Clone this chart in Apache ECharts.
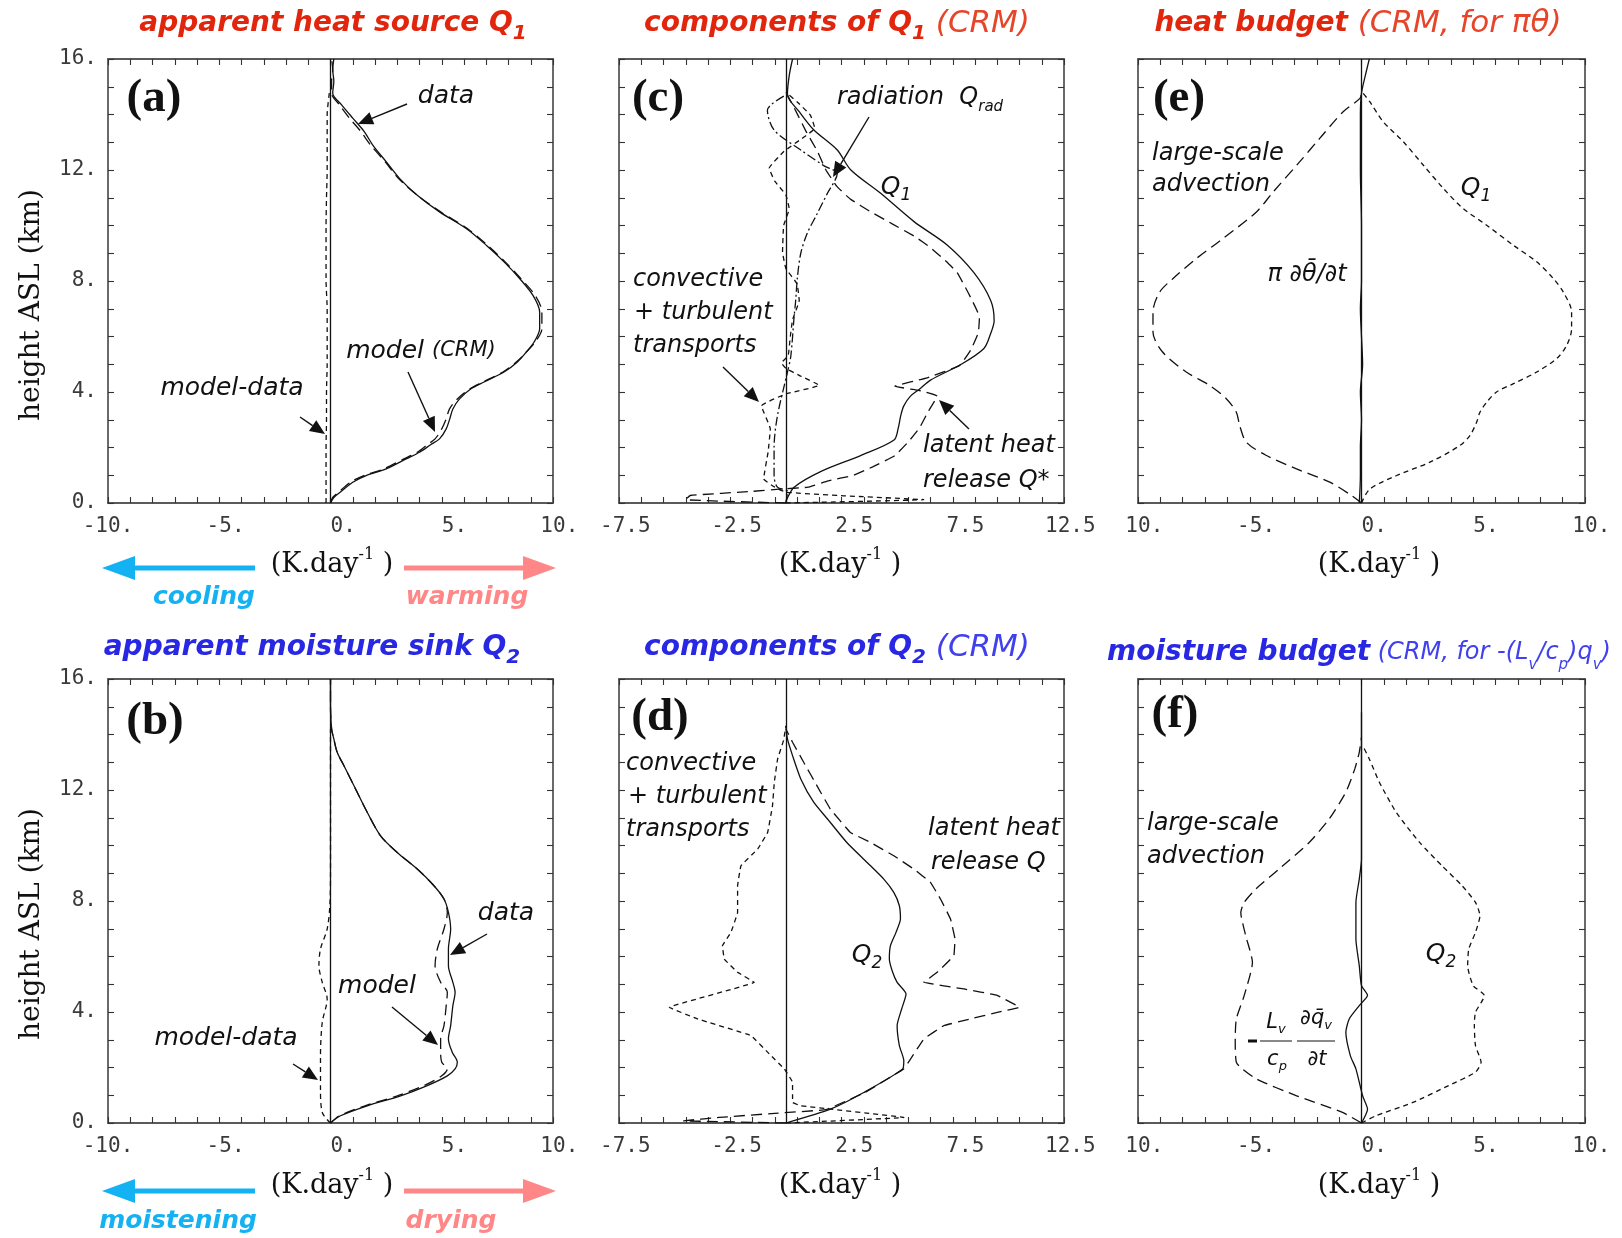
<!DOCTYPE html>
<html><head><meta charset="utf-8">
<script src="https://cdn.jsdelivr.net/npm/echarts/dist/echarts.min.js"></script>
<style>html,body{margin:0;padding:0;background:#fff}#c{width:1622px;height:1238px}</style>
</head><body><div id="c"></div><script>
// ---------------- tick labels ----------------
const X_LABELS_1 = ['-10.', '-5.', '0.', '5.', '10.'];
const X_LABELS_2 = ['-7.5', '-2.5', '2.5', '7.5', '12.5'];
const X_LABELS_3 = ['10.', '-5.', '0.', '5.', '10.'];
const Y_LABELS = ['0.', '4.', '8.', '12.', '16.'];

// ---------------- panel (a): apparent heat source Q1 ----------------
const a_h = [0, 0.2, 0.38, 0.75, 0.99, 1.23, 1.59, 1.83, 2.1, 2.31, 2.67, 3.03, 3.39, 3.75, 4.11, 4.36, 4.72, 5.08, 5.44, 5.8, 6.28, 6.88, 7.48, 8.09, 8.69, 9.29, 9.89, 10.49, 11.09, 11.7, 12.3, 12.9, 13.4, 13.87, 14.35, 14.77, 15.2, 15.6, 16];
const a_data = [0, 0.15, 0.42, 1.0, 1.6, 2.5, 3.4, 4.0, 4.5, 4.9, 5.2, 5.36, 5.5, 5.8, 6.3, 6.9, 7.8, 8.4, 8.8, 9.15, 9.4, 9.4, 9.1, 8.5, 7.8, 7.0, 6.1, 4.9, 3.9, 3.1, 2.5, 1.9, 1.5, 1.0, 0.5, 0.1, 0.15, 0.1, 0.15];
const a_model = [0, 0.1, 0.35, 0.9, 1.5, 2.4, 3.3, 3.9, 4.35, 4.7, 5.0, 5.2, 5.35, 5.7, 6.25, 6.85, 7.75, 8.35, 8.8, 9.2, 9.5, 9.5, 9.2, 8.55, 7.85, 7.05, 6.15, 4.95, 3.9, 3.05, 2.45, 1.8, 1.35, 0.85, 0.4, 0.05, 0.05, 0.1, 0.05];
const a_diff_h = [0, 1, 2, 3, 4, 5, 6, 7, 8, 9, 10, 11, 12, 13, 14, 14.8];
const a_diff = [-0.2, -0.2, -0.2, -0.18, -0.18, -0.15, -0.15, -0.15, -0.2, -0.2, -0.2, -0.18, -0.15, -0.15, -0.15, -0.05];

// ---------------- panel (c): components of Q1 ----------------
const c_q1_h = [0, 0.15, 0.57, 1.13, 1.71, 2.27, 2.7, 3.14, 3.5, 3.85, 4.1, 4.43, 4.99, 5.57, 6.1, 6.57, 7.29, 8.29, 9.29, 10.14, 11.16, 12.01, 12.72, 13.44, 14.1, 14.73, 15.4, 16];
const c_q1 = [0, 0.05, 0.37, 1.56, 3.36, 4.86, 5.05, 5.16, 5.3, 5.6, 6.0, 6.5, 7.86, 8.9, 9.2, 9.36, 9.21, 8.46, 7.26, 5.76, 4.26, 2.91, 2.31, 1.26, 0.6, 0.07, 0.15, 0.3];
const c_qs_h = [0, 0.12, 0.27, 0.42, 0.5, 0.57, 0.8, 0.99, 1.3, 1.71, 2.2, 2.7, 3.3, 3.85, 4.05, 4.21, 4.5, 4.95, 5.5, 6.14, 6.7, 7.57, 8.3, 8.71, 9.2, 9.6, 10.05, 10.5, 10.95, 11.4, 12.0, 12.7, 13.4, 14.2, 14.8];
const c_qs = [0, -4.5, -4.3, -1.5, -0.3, 1.0, 1.9, 3.0, 3.9, 4.9, 5.5, 6.0, 6.4, 6.8, 6.0, 4.9, 6.3, 7.8, 8.3, 8.65, 8.7, 8.2, 7.7, 7.2, 6.5, 5.8, 4.8, 3.8, 2.9, 2.3, 1.8, 1.4, 0.9, 0.4, 0];
const c_rad_h = [0, 0.42, 0.57, 0.99, 2.0, 3.14, 4.71, 5.28, 6.71, 7.29, 8.14, 9.0, 9.72, 10.43, 11.15, 11.87, 12.15, 12.72, 13.44, 14.15, 14.73];
const c_rad = [0, 0.07, -0.38, -0.53, -0.53, -0.38, 0.07, 0.22, 0.37, 0.44, 0.52, 0.67, 0.96, 1.41, 1.86, 2.31, 1.72, 0.67, -0.53, -0.83, 0.07];
const c_conv_h = [0, 0.12, 0.26, 0.39, 0.57, 0.87, 1.83, 2.67, 3.5, 3.93, 4.24, 4.6, 4.85, 5.05, 5.3, 6.0, 6.6, 7.3, 7.9, 8.45, 9.05, 10.0, 10.6, 11.1, 11.6, 12.06, 12.66, 13.18, 13.5, 13.98, 14.46, 14.8];
const c_conv = [0, 6.2, 2.6, 0, -0.5, -1.0, -0.8, -0.7, -1.1, 0, 1.5, 0.6, 0.0, -0.2, 0.1, 0.2, 0.3, 0.6, 0.5, 0.0, -0.15, -0.1, 0.15, 0.0, -0.5, -0.75, -0.1, 0.8, 1.3, 1.1, 0.5, 0];

// ---------------- panel (e): heat budget ----------------
const e_q1_h = [0, 0.5, 0.99, 1.47, 2.07, 2.43, 2.91, 3.27, 3.63, 4.0, 4.3, 4.72, 5.2, 5.68, 6.28, 6.88, 7.6, 8.09, 8.69, 9.29, 10.01, 10.61, 11.34, 12.18, 13.02, 13.74, 14.46, 14.77];
const e_q1 = [0, 0.37, 1.57, 3.06, 4.4, 4.85, 5.15, 5.3, 5.6, 6.04, 6.8, 7.84, 8.73, 9.18, 9.4, 9.4, 9.03, 8.58, 7.84, 6.79, 5.6, 4.55, 3.66, 2.76, 1.87, 0.97, 0.37, 0.07];
const e_adv_h = [0, 0.3, 0.75, 1.23, 1.71, 2.19, 2.79, 3.27, 3.75, 4.24, 4.72, 5.44, 6.16, 6.88, 7.6, 8.09, 8.81, 9.53, 10.49, 11.2, 12.3, 13.14, 14.1, 14.58, 14.77];
const e_adv = [0, -0.5, -1.42, -2.91, -4.25, -5.15, -5.45, -5.6, -6.04, -6.8, -7.84, -8.9, -9.33, -9.33, -9.03, -8.43, -7.39, -6.2, -4.7, -3.96, -2.76, -1.87, -0.82, -0.07, 0];
const e_tend_h = [0, 1, 2, 3, 4, 5, 6, 7, 8, 10, 12, 14, 14.77, 15.4, 16];
const e_tend = [-0.1, -0.05, -0.05, 0, -0.05, 0.05, 0, -0.05, 0, 0, -0.05, -0.05, 0, 0.17, 0.35];

// ---------------- panel (b): apparent moisture sink Q2 ----------------
const b_h = [0, 0.26, 0.62, 0.98, 1.35, 1.7, 1.95, 2.19, 2.55, 3.03, 3.51, 4.23, 4.71, 5.07, 5.67, 6.27, 6.99, 7.59, 8.07, 8.55, 9.15, 9.75, 10.35, 11.2, 12.16, 12.88, 13.36, 13.84, 14.2, 15, 16];
const b_data = [0, 0.45, 1.65, 3.15, 4.35, 5.25, 5.6, 5.7, 5.47, 5.3, 5.4, 5.5, 5.6, 5.5, 5.3, 5.3, 5.4, 5.3, 5.1, 4.65, 3.9, 3.0, 2.25, 1.65, 1.05, 0.6, 0.3, 0.15, 0.05, 0, 0];
const b_model = [0, 0.4, 1.55, 3.0, 4.2, 5.0, 5.25, 5.0, 4.95, 4.95, 5.1, 5.2, 5.25, 4.95, 4.7, 4.8, 5.1, 5.25, 5.1, 4.65, 3.9, 3.0, 2.25, 1.65, 1.05, 0.6, 0.3, 0.15, 0.05, 0, 0];
const b_diff_h = [0, 0.38, 1.23, 2.43, 3.63, 4.47, 5.07, 5.67, 6.27, 6.99, 7.83, 9, 11, 13, 14.2];
const b_diff = [0, -0.37, -0.45, -0.45, -0.37, -0.15, -0.37, -0.52, -0.45, -0.15, -0.03, 0, 0, 0, 0];

// ---------------- panel (d): components of Q2 ----------------
const d_q2_h = [0, 0.5, 1.1, 1.95, 2.25, 2.79, 3.51, 4.1, 4.65, 5.07, 5.43, 5.91, 6.39, 6.87, 7.35, 7.83, 8.31, 8.79, 9.39, 10.1, 10.83, 11.56, 12.4, 13.24, 13.84, 14.32];
const d_q2 = [0, 2.0, 3.5, 5.25, 5.3, 5.1, 5.0, 5.2, 5.4, 5.0, 4.8, 4.65, 4.7, 4.95, 5.15, 5.1, 4.85, 4.4, 3.65, 2.75, 2.0, 1.25, 0.67, 0.3, 0.07, 0];
const d_q_h = [0, 0.08, 0.2, 0.35, 0.48, 1.1, 1.95, 2.3, 3.03, 3.51, 3.75, 3.99, 4.17, 4.6, 4.83, 5.07, 5.43, 6.03, 6.63, 7.35, 8.07, 8.67, 9.15, 9.63, 10.11, 10.47, 11.31, 12.15, 13.0, 13.72, 14.2];
const d_q = [0, -4.6, -3.0, -0.5, 1.8, 3.55, 5.3, 5.6, 6.2, 7.1, 8.3, 9.5, 10.5, 9.5, 8.0, 6.2, 6.8, 7.55, 7.6, 7.4, 6.95, 6.5, 5.75, 4.85, 3.8, 2.9, 2.0, 1.4, 0.8, 0.3, 0];
const d_conv_h = [0, 0.2, 0.62, 0.74, 1.47, 1.95, 2.43, 3.15, 3.75, 4.17, 5.07, 5.43, 5.91, 6.39, 6.87, 7.59, 8.55, 9.27, 9.87, 10.47, 11.44, 12.28, 13.12, 13.8, 14.3];
const d_conv = [0, 5.3, 0.67, 0.3, 0.3, -0.07, -0.67, -1.57, -3.97, -5.24, -1.42, -2.17, -2.77, -2.85, -2.47, -2.17, -2.17, -2.02, -1.27, -0.82, -0.6, -0.52, -0.37, -0.1, 0];

// ---------------- panel (f): moisture budget ----------------
const f_adv_h = [0, 0.38, 0.98, 1.59, 2.19, 3.03, 3.75, 4.59, 5.79, 6.75, 7.59, 7.95, 8.43, 9.15, 10.11, 10.95, 11.92, 12.76, 13.36, 13.9];
const f_adv = [0, -0.85, -2.9, -4.7, -5.6, -5.65, -5.6, -5.25, -4.88, -5.18, -5.4, -5.25, -4.73, -3.69, -2.34, -1.45, -0.7, -0.3, -0.1, 0];
const f_q2_h = [0, 0.26, 0.74, 1.35, 1.83, 2.19, 2.79, 3.51, 3.99, 4.59, 4.95, 5.67, 6.27, 6.87, 7.47, 7.95, 8.55, 9.27, 10.11, 11.2, 12.28, 13.12, 13.6];
const f_q2 = [0, 0.64, 2.3, 3.9, 5.1, 5.35, 5.1, 5.05, 5.1, 5.5, 5.0, 4.75, 4.8, 5.1, 5.3, 5.1, 4.5, 3.6, 2.6, 1.55, 0.8, 0.35, 0.05];
const f_tend_h = [0, 0.5, 0.98, 1.95, 2.43, 3.27, 3.75, 4.23, 4.6, 4.95, 5.67, 6.63, 7.95, 8.79, 9.51, 10.5, 12, 13.3, 14, 14.8];
const f_tend = [0, 0.27, 0.05, -0.25, -0.5, -0.7, -0.55, -0.1, 0.27, 0, -0.1, -0.25, -0.25, -0.1, 0, 0, 0, 0, 0, 0];

// ---------------- layout & styles ----------------
const COLS = [{left: 108, width: 445}, {left: 619, width: 445}, {left: 1138, width: 447}];
const ROWS = [{top: 59, height: 444}, {top: 679, height: 444}];
const SOLID = 'solid', LONG = [11, 6], SHORT = [5, 4], DASHDOT = [9, 3, 2, 3];
const INK = '#111';
const MONO = 'DejaVu Sans Mono';
const SANS = 'DejaVu Sans';
const SERIF = 'DejaVu Serif';
const RED = '#e2260d', RED2 = '#e6452a', BLUE = '#2727e4', BLUE2 = '#4040ee';
const CYAN = '#14b1f3', PINK = '#ff8787';

const panels = [
  {row: 0, col: 0, xmin: -10, xmax: 10, xl: X_LABELS_1, pad: 4, yl: true,
   s: [[a_data, a_h, SOLID, 0.3], [a_model, a_h, LONG, 0.3], [a_diff, a_diff_h, SHORT, 0.2]]},
  {row: 0, col: 1, xmin: -7.5, xmax: 12.5, xl: X_LABELS_2, pad: 5, yl: false,
   s: [[c_q1, c_q1_h, SOLID, 0.3], [c_qs, c_qs_h, LONG, 0.1], [c_rad, c_rad_h, DASHDOT, 0.3], [c_conv, c_conv_h, SHORT, 0.1]]},
  {row: 0, col: 2, xmin: -10, xmax: 10, xl: X_LABELS_3, pad: 4, yl: false,
   s: [[e_tend, e_tend_h, SOLID, 0.3], [e_adv, e_adv_h, LONG, 0.3], [e_q1, e_q1_h, SHORT, 0.3]]},
  {row: 1, col: 0, xmin: -10, xmax: 10, xl: X_LABELS_1, pad: 4, yl: true,
   s: [[b_data, b_h, SOLID, 0.3], [b_model, b_h, LONG, 0.3], [b_diff, b_diff_h, SHORT, 0.3]]},
  {row: 1, col: 1, xmin: -7.5, xmax: 12.5, xl: X_LABELS_2, pad: 5, yl: false,
   s: [[d_q2, d_q2_h, SOLID, 0.2], [d_q, d_q_h, LONG, 0.05], [d_conv, d_conv_h, SHORT, 0.05]]},
  {row: 1, col: 2, xmin: -10, xmax: 10, xl: X_LABELS_3, pad: 4, yl: false,
   s: [[f_tend, f_tend_h, SOLID, 0.2], [f_adv, f_adv_h, LONG, 0.2], [f_q2, f_q2_h, SHORT, 0.2]]}
];

const axisLine = {show: true, onZero: false, lineStyle: {color: '#5a5a5a', width: 1.8}};
const tickStyle = {color: '#333', width: 1.1};
const option = {animation: false, backgroundColor: '#fff', grid: [], xAxis: [], yAxis: [], series: [], graphic: {elements: []}};

panels.forEach((p, i) => {
  option.grid.push({left: COLS[p.col].left, width: COLS[p.col].width, top: ROWS[p.row].top, height: ROWS[p.row].height, containLabel: false});
  ['bottom', 'top'].forEach((pos, k) => {
    option.xAxis.push({
      type: 'value', gridIndex: i, position: pos, min: p.xmin, max: p.xmax, interval: 5,
      axisLine, axisTick: {show: true, inside: true, length: 6, lineStyle: tickStyle},
      minorTick: {show: true, splitNumber: 5, length: 6, lineStyle: tickStyle},
      splitLine: {show: false}, minorSplitLine: {show: false},
      axisLabel: k === 0 ? {
        show: true, margin: 13, showMinLabel: true, showMaxLabel: true,
        alignMinLabel: 'center', alignMaxLabel: 'center',
        formatter: (v) => {
          const t = p.xl[Math.round((v - p.xmin) / 5)] || '';
          const n = p.pad - t.length;
          return (n > 0 ? '{h|' + '0'.repeat(n) + '}' : '') + '{t|' + t + '}';
        },
        rich: {h: {color: 'rgba(0,0,0,0)', fontFamily: MONO, fontSize: 21},
               t: {color: '#3a3a3a', fontFamily: MONO, fontSize: 21}}
      } : {show: false}
    });
  });
  ['left', 'right'].forEach((pos, k) => {
    option.yAxis.push({
      type: 'value', gridIndex: i, position: pos, min: 0, max: 16, interval: 4,
      axisLine, axisTick: {show: true, inside: true, length: 6, lineStyle: tickStyle},
      minorTick: {show: true, splitNumber: 4, length: 6, lineStyle: tickStyle},
      splitLine: {show: false}, minorSplitLine: {show: false},
      axisLabel: (k === 0 && p.yl) ? {
        show: true, margin: 11, showMinLabel: true, showMaxLabel: true,
        formatter: (v) => Y_LABELS[Math.round(v / 4)] || '',
        color: '#3a3a3a', fontFamily: MONO, fontSize: 21
      } : {show: false}
    });
  });
  p.s.forEach((s, j) => {
    const ser = {
      type: 'line', xAxisIndex: 2 * i, yAxisIndex: 2 * i,
      data: s[1].map((h, q) => [s[0][q], h]),
      symbol: 'none', showSymbol: false, smooth: s[3], silent: true,
      lineStyle: {color: INK, width: 1.3, type: s[2]}, z: 3
    };
    if (j === 0) {
      ser.markLine = {silent: true, symbol: ['none', 'none'], label: {show: false},
        lineStyle: {color: INK, width: 1.3, type: 'solid'}, data: [{xAxis: 0}]};
    }
    option.series.push(ser);
  });
});

// ---------------- annotations (graphic) ----------------
const G = option.graphic.elements;
function tok(size, o) {
  return Object.assign({fontFamily: SANS, fontSize: size, fontStyle: 'italic', fontWeight: 'normal', fill: INK, lineHeight: Math.round(size * 1.4)}, o || {});
}
function rtext(x, y, str, rich, align, rot) {
  G.push({type: 'text', x, y, rotation: rot || 0, silent: true, z: 10,
    style: {text: str, rich, align: align || 'center', verticalAlign: 'middle', textAlign: align || 'center', textVerticalAlign: 'middle'}});
}
function arrow(x1, y1, x2, y2) {
  const dx = x2 - x1, dy = y2 - y1, L = Math.hypot(dx, dy), ux = dx / L, uy = dy / L;
  const hl = 15, hw = 6.5, bx = x2 - ux * hl, by = y2 - uy * hl;
  G.push({type: 'line', silent: true, z: 10, shape: {x1, y1, x2: bx, y2: by}, style: {stroke: INK, lineWidth: 1.4}});
  G.push({type: 'polygon', silent: true, z: 10, shape: {points: [[x2, y2], [bx - uy * hw, by + ux * hw], [bx + uy * hw, by - ux * hw]]}, style: {fill: INK}});
}
function bigArrow(x1, tip, y, color) {
  const dir = tip > x1 ? 1 : -1, base = tip - dir * 33;
  G.push({type: 'line', silent: true, shape: {x1, y1: y, x2: base, y2: y}, style: {stroke: color, lineWidth: 5}});
  G.push({type: 'polygon', silent: true, shape: {points: [[tip, y], [base, y - 12], [base, y + 12]]}, style: {fill: color}});
}

// titles
const TB = (c) => tok(28, {fontWeight: 'bold', fill: c, lineHeight: 40});
const TBS = (c) => tok(20, {fontWeight: 'bold', fill: c, lineHeight: 20, verticalAlign: 'bottom'});
const TI = (c) => tok(31, {fill: c, lineHeight: 40});
rtext(333, 24, '{b|apparent heat source Q}{s|1}', {b: TB(RED), s: TBS(RED)});
rtext(837, 24, '{b|components of Q}{s|1}{i| (CRM)}', {b: TB(RED), s: TBS(RED), i: TI(RED2)});
rtext(1358, 24, '{b|heat budget}{i| (CRM, for πθ)}', {b: TB(RED), i: TI(RED2)});
rtext(312, 648, '{b|apparent moisture sink Q}{s|2}', {b: TB(BLUE), s: TBS(BLUE)});
rtext(837, 648, '{b|components of Q}{s|2}{i| (CRM)}', {b: TB(BLUE), s: TBS(BLUE), i: TI(BLUE2)});
rtext(1359, 653, '{b|moisture budget}{i| (CRM, for -(L}{u|v}{i|/c}{u|p}{i|)q}{u|v}{i|)}',
  {b: TB(BLUE), i: tok(24, {fill: BLUE2, lineHeight: 40}), u: tok(15, {fill: BLUE2, lineHeight: 15, verticalAlign: 'bottom'})});

// panel letters
const PL = {p: {fontFamily: 'Liberation Serif', fontSize: 47, fontWeight: 'bold', fill: INK, lineHeight: 50}};
rtext(154, 99, '{p|(a)}', PL);
rtext(658, 99, '{p|(c)}', PL);
rtext(1179, 99, '{p|(e)}', PL);
rtext(155, 722, '{p|(b)}', PL);
rtext(660, 718, '{p|(d)}', PL);
rtext(1175, 715, '{p|(f)}', PL);

// axis names
const KD = {m: {fontFamily: SERIF, fontSize: 27, fill: INK, lineHeight: 36}, p: {fontFamily: SERIF, fontSize: 16, fill: INK, lineHeight: 16, verticalAlign: 'top'}};
[[332, 565], [840, 565], [1379, 565], [332, 1186], [840, 1186], [1379, 1186]].forEach(([x, y]) => rtext(x, y, '{m|(K.day}{p|-1}{m| )}', KD));
const HN = {m: {fontFamily: SERIF, fontSize: 28, fill: INK, lineHeight: 34}};
rtext(32, 305, '{m|height ASL (km)}', HN, 'center', Math.PI / 2);
rtext(32, 924, '{m|height ASL (km)}', HN, 'center', Math.PI / 2);

// cooling / warming, moistening / drying
bigArrow(255, 102, 568, CYAN); bigArrow(404, 556, 568, PINK);
bigArrow(255, 102, 1191, CYAN); bigArrow(404, 556, 1191, PINK);
const WB = (c) => ({w: tok(25, {fontWeight: 'bold', fill: c, lineHeight: 32})});
rtext(204, 597, '{w|cooling}', WB(CYAN));
rtext(467, 597, '{w|warming}', WB(PINK));
rtext(178, 1221, '{w|moistening}', WB(CYAN));
rtext(451, 1221, '{w|drying}', WB(PINK));

// in-plot labels
const RA = {m: tok(25), c: tok(21), s: tok(17, {lineHeight: 17, verticalAlign: 'bottom'})};
const RB = {m: tok(24), s: tok(15, {lineHeight: 15, verticalAlign: 'bottom'})};
// (a)
rtext(446, 96, '{m|data}', RA);
rtext(421, 351, '{m|model }{c|(CRM)}', RA);
rtext(232, 388, '{m|model-data}', RA);
arrow(407, 104, 358, 124); arrow(408, 372, 435, 432); arrow(300, 417, 325, 434);
// (c)
rtext(920, 98, '{m|radiation  Q}{s|rad}', RB);
rtext(896, 187, '{m|Q}{s|1}', RA);
rtext(633, 280, '{m|convective}', RB, 'left');
rtext(634, 313, '{m|+ turbulent}', RB, 'left');
rtext(633, 346, '{m|transports}', RB, 'left');
rtext(923, 446, '{m|latent heat}', RB, 'left');
rtext(923, 481, '{m|release Q*}', RB, 'left');
arrow(869, 117, 833, 177); arrow(723, 367, 759, 402); arrow(969, 429, 939, 400);
// (e)
rtext(1152, 154, '{m|large-scale}', RB, 'left');
rtext(1152, 185, '{m|advection}', RB, 'left');
rtext(1307, 275, '{m|π ∂θ\u0304/∂t}', RB);
rtext(1476, 188, '{m|Q}{s|1}', RA);
// (b)
rtext(506, 913, '{m|data}', RA);
rtext(377, 986, '{m|model}', RA);
rtext(226, 1038, '{m|model-data}', RA);
arrow(487, 934, 450, 955); arrow(392, 1007, 438, 1045); arrow(293, 1064, 318, 1080);
// (d)
rtext(626, 764, '{m|convective}', RB, 'left');
rtext(628, 797, '{m|+ turbulent}', RB, 'left');
rtext(626, 830, '{m|transports}', RB, 'left');
rtext(928, 829, '{m|latent heat}', RB, 'left');
rtext(931, 863, '{m|release Q}', RB, 'left');
rtext(867, 955, '{m|Q}{s|2}', RA);
// (f)
rtext(1147, 824, '{m|large-scale}', RB, 'left');
rtext(1147, 857, '{m|advection}', RB, 'left');
rtext(1441, 954, '{m|Q}{s|2}', RA);
const RF = {m: tok(21, {lineHeight: 26}), s: tok(13, {lineHeight: 13, verticalAlign: 'bottom'})};
G.push({type: 'line', silent: true, shape: {x1: 1248, y1: 1041, x2: 1257, y2: 1041}, style: {stroke: INK, lineWidth: 3}});
G.push({type: 'line', silent: true, shape: {x1: 1260, y1: 1041, x2: 1292, y2: 1041}, style: {stroke: '#888', lineWidth: 2}});
G.push({type: 'line', silent: true, shape: {x1: 1297, y1: 1041, x2: 1335, y2: 1041}, style: {stroke: '#888', lineWidth: 2}});
rtext(1276, 1023, '{m|L}{s|v}', RF);
rtext(1277, 1060, '{m|c}{s|p}', RF);
rtext(1316, 1019, '{m|∂q\u0304}{s|v}', RF);
rtext(1317, 1060, '{m|∂t}', RF);

const chart = echarts.init(document.getElementById('c'), null, {renderer: 'canvas', width: 1622, height: 1238});
chart.setOption(option);
</script></body></html>
